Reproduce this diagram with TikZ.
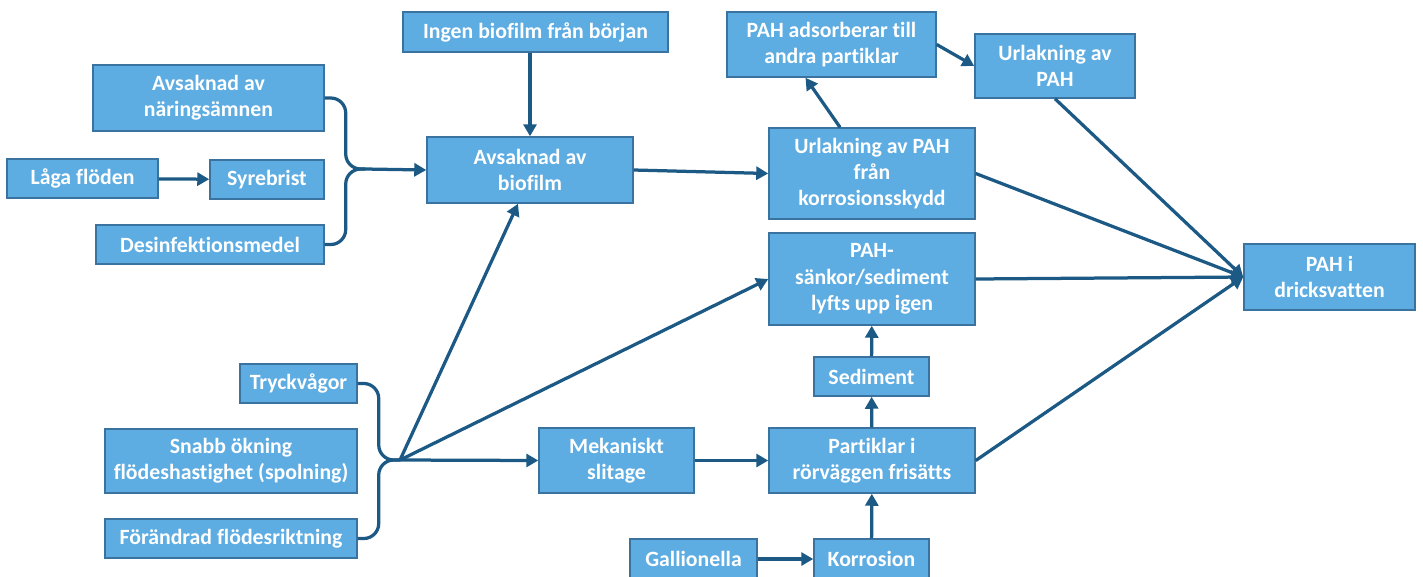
\documentclass[tikz,border=0pt]{standalone}
\usepackage{fontspec}
\setmainfont[Ligatures=NoCommon]{Carlito}
\usetikzlibrary{arrows.meta,calc}
\definecolor{boxfill}{RGB}{93,172,226}
\definecolor{boxline}{RGB}{58,114,160}
\definecolor{linkcol}{RGB}{28,90,133}
\tikzset{
  box/.style={draw=boxline, line width=0.03cm, fill=boxfill, text=white,
    font=\fontsize{12.4}{15}\selectfont\bfseries, align=center, inner sep=0pt},
  link/.style={draw=linkcol, line width=0.065cm},
  arrow/.style={link, -{Triangle[length=0.24cm,width=0.26cm]}}
}
\begin{document}
\begin{tikzpicture}[x=0.02cm,y=-0.02cm]
                \useasboundingbox (0,0) rectangle (1423,576);
                
                % Drawing boxes, left column
                \node [box, minimum width=4.62cm, minimum height=1.32cm] (naring) at (208.5,98) {Avsaknad av\\näringsämnen};%
                \node [box, minimum width=3.02cm, minimum height=0.78cm] (laga) at (82.5,178.5) {Låga flöden};%
                \node [box, minimum width=2.28cm, minimum height=0.78cm] (syre) at (267,179.5) {Syrebrist};%
                \node [box, minimum width=4.56cm, minimum height=0.78cm] (desinf) at (210,244.5) {Desinfektionsmedel};%
                \node [box, minimum width=2.34cm, minimum height=0.78cm] (tryck) at (298.5,383.5) {Tryckvågor};%
                \node [box, minimum width=5.04cm, minimum height=1.28cm] (snabb) at (231,461) {Snabb ökning\\flödeshastighet (spolning)};%
                \node [box, minimum width=5.04cm, minimum height=0.78cm] (forandrad) at (231,538.5) {Förändrad flödesriktning};%
                
                % Drawing boxes, middle
                \node [box, minimum width=5.30cm, minimum height=0.80cm] (ingen) at (535.5,32) {Ingen biofilm från början};%
                \node [box, minimum width=4.12cm, minimum height=1.32cm] (biofilm) at (530,170) {Avsaknad av\\biofilm};%
                \node [box, minimum width=3.10cm, minimum height=1.30cm] (mek) at (616.5,460.5) {Mekaniskt\\slitage};%
                \node [box, minimum width=2.54cm, minimum height=0.80cm] (gallionella) at (693.5,559) {Gallionella};%
                
                % Drawing boxes, right
                \node [box, minimum width=4.18cm, minimum height=1.30cm] (adsorb) at (831.5,44.5) {PAH adsorberar till\\andra partiklar};%
                \node [box, minimum width=3.20cm, minimum height=1.28cm] (urlak) at (1055,66) {Urlakning av\\PAH};%
                \node [box, minimum width=4.12cm, minimum height=1.82cm] (korrskydd) at (872,173.5) {Urlakning av PAH\\från\\korrosionsskydd};%
                \node [box, minimum width=4.12cm, minimum height=1.84cm] (sankor) at (872,279) {PAH-\\sänkor/sediment\\lyfts upp igen};%
                \node [box, minimum width=2.30cm, minimum height=0.78cm] (sediment) at (871.5,376.5) {Sediment};%
                \node [box, minimum width=4.12cm, minimum height=1.30cm] (partiklar) at (872,460.5) {Partiklar i\\rörväggen frisätts};%
                \node [box, minimum width=2.30cm, minimum height=0.80cm] (korrosion) at (871.5,559) {Korrosion};%
                \node [box, minimum width=3.42cm, minimum height=1.32cm] (dricks) at (1329.5,277) {PAH i\\dricksvatten};%
                
                % Junction points of the braces
                \coordinate (jbio) at (365,169);%
                \coordinate (jmek) at (400,460);%
                
                % Drawing upper brace
                \draw [link, rounded corners=0.3cm] (naring.east) -- ++(21,0) |- (jbio);%
                \draw [link, rounded corners=0.3cm] (desinf.east) -- ++(21,0) |- (jbio);%
                \draw [arrow] (jbio) -- (biofilm.west);%
                \draw [arrow] (laga) -- (syre);%
                
                % Drawing lower brace
                \draw [link, rounded corners=0.3cm] (tryck.east) -- ++(21,0) |- (jmek);%
                \draw [link, rounded corners=0.3cm] (forandrad.east) -- ++(21,0) |- (jmek);%
                \draw [arrow] (jmek) -- (mek.west);%
                \draw [arrow] (jmek) -- ($(biofilm.south)+(-12,0)$);%
                \draw [arrow] (jmek) -- (sankor.west);%
                
                % Drawing middle arrows
                \draw [arrow] (ingen.south -| biofilm.north) -- (biofilm.north);%
                \draw [arrow] (biofilm.east) -- (korrskydd.west);%
                \draw [arrow] ($(korrskydd.north)+(-32,0)$) -- ($(adsorb.south)+(-26,0)$);%
                \draw [arrow] (adsorb.east) -- (urlak.west);%
                \draw [arrow] (mek) -- (partiklar);%
                \draw [arrow] (gallionella) -- (korrosion);%
                \draw [arrow] (korrosion) -- (partiklar);%
                \draw [arrow] (partiklar) -- (sediment);%
                \draw [arrow] (sediment) -- (sankor);%
                
                % Drawing arrows into PAH i dricksvatten
                \draw [arrow] (urlak.south) -- (dricks.west);%
                \draw [arrow] (korrskydd.east) -- (dricks.west);%
                \draw [arrow] (sankor.east) -- (dricks.west);%
                \draw [arrow] (partiklar.east) -- (dricks.west);%
\end{tikzpicture}
\end{document}
